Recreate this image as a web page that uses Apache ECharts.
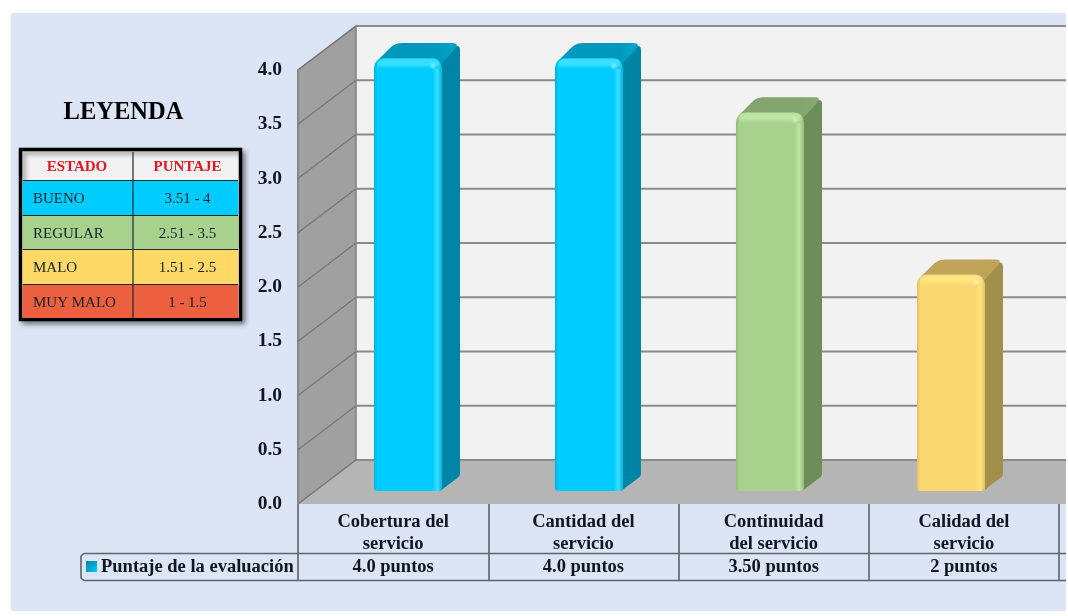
<!DOCTYPE html>
<html><head><meta charset="utf-8">
<style>html,body{margin:0;padding:0;background:#fff}#c{width:1068px;height:616px}</style>
<script src="https://cdn.jsdelivr.net/npm/echarts@6/dist/echarts.min.js"></script>
</head><body><div id="c"></div>
<script>
const categories = ['Cobertura del\nservicio','Cantidad del\nservicio','Continuidad\ndel servicio','Calidad del\nservicio'];
const scores = [4.0, 4.0, 3.5, 2.0];
const scoreLabels = ['4.0 puntos','4.0 puntos','3.50 puntos','2 puntos'];
const yTicks = [0,0.5,1,1.5,2,2.5,3,3.5,4];
const legendHeader = ['ESTADO','PUNTAJE'];
const legendStates = ['BUENO','REGULAR','MALO','MUY MALO'];
const legendRanges = ['3.51 - 4','2.51 - 3.5','1.51 - 2.5','1 - 1.5'];
const legendMin = [3.51, 2.51, 1.51, 1];
const seriesName = 'Puntaje de la evaluación';

const SERIF = '"Liberation Serif","Times New Roman",serif';
const legendFill = ['#00CCFF','#A9D18E','#FFD966','#EC6040'];
const palette = [
  {front:'#00CCFF', edge:'#00B4E2', light:'#3ADFFF', top:'#0099BD', side:'#0085A6', sideLight:'#00A6C8'},
  {front:'#A9D18E', edge:'#93BB78', light:'#BEE4A4', top:'#84A66E', side:'#6F8C5B', sideLight:'#86A871'},
  {front:'#F9D771', edge:'#E3C15F', light:'#FFE47F', top:'#BFA45A', side:'#A38F4C', sideLight:'#BDA45A'},
  {front:'#EC6040', edge:'#CC4E30', light:'#F57B5E', top:'#B34A30', side:'#9C4029', sideLight:'#B34A30'}
];
const RIGHT = 1066, DX = 58, DY = -44, BAR_DX = 18, BAR_DY = -15;

function band(v){ for(let i=0;i<legendMin.length;i++){ if(v>=legendMin[i]) return i; } return legendMin.length-1; }

function roundPoly(pts, rs){
  const out=[]; const n=pts.length;
  for(let i=0;i<n;i++){
    const p=pts[i], a=pts[(i+n-1)%n], b=pts[(i+1)%n], r=rs[i]||0;
    if(!r){out.push(p);continue;}
    const la=Math.hypot(a[0]-p[0],a[1]-p[1]), lb=Math.hypot(b[0]-p[0],b[1]-p[1]);
    const s=[p[0]+(a[0]-p[0])*r/la,p[1]+(a[1]-p[1])*r/la], e=[p[0]+(b[0]-p[0])*r/lb,p[1]+(b[1]-p[1])*r/lb];
    for(let t=0;t<=6;t++){const u=t/6;
      out.push([(1-u)*(1-u)*s[0]+2*u*(1-u)*p[0]+u*u*e[0],(1-u)*(1-u)*s[1]+2*u*(1-u)*p[1]+u*u*e[1]]);}
  }
  return out;
}
const linear=(x,y,x2,y2,stops)=>({type:'linear',x,y,x2,y2,colorStops:stops.map(s=>({offset:s[0],color:s[1]}))});

function renderWalls(params, api){
  const g=params.coordSys, x0=g.x, y4=api.coord([0,4])[1], y0=api.coord([0,0])[1];
  const grey='#808080';
  return {type:'group',children:[
    {type:'rect',shape:{x:x0+DX,y:y4+DY,width:RIGHT-x0-DX,height:y0-y4},style:{fill:'#F2F2F2'}},
    {type:'polygon',shape:{points:[[x0,y4],[x0+DX,y4+DY],[x0+DX,y0+DY],[x0,y0]]},style:{fill:'#A0A0A0',stroke:grey,lineWidth:1.5}},
    {type:'polygon',shape:{points:[[x0,y0],[x0+DX,y0+DY],[RIGHT,y0+DY],[RIGHT,y0]]},style:{fill:'#B5B5B5'}}
  ]};
}
function renderGrid(params, api){
  const g=params.coordSys, x0=g.x, y=api.coord([0,api.value(1)])[1];
  return {type:'group',children:[
    {type:'line',shape:{x1:x0,y1:y,x2:x0+DX,y2:y+DY},style:{stroke:'#777777',lineWidth:1.2}},
    {type:'line',shape:{x1:x0+DX,y1:y+DY,x2:RIGHT,y2:y+DY},style:{stroke:'#8A8A8A',lineWidth:2}}
  ]};
}
function renderBar(params, api){
  const i=api.value(0), v=api.value(1), c=palette[band(v)];
  const w=api.size([1,0])[0]*0.376;
  const cx=api.coord([i,0])[0], yb=api.coord([i,0])[1], yt=api.coord([i,v])[1];
  const x0=cx-w/2, x1=cx+w/2;
  const side=roundPoly([[x1-4,yt],[x1+BAR_DX,yt+BAR_DY],[x1+BAR_DX,yb+BAR_DY],[x1-2,yb]],[0,8,3,0]);
  const top=roundPoly([[x0-1,yt+7],[x0+BAR_DX+3,yt+BAR_DY],[x1+BAR_DX,yt+BAR_DY],[x1,yt+5]],[6,7,8,0]);
  return {type:'group',children:[
    {type:'polygon',shape:{points:side},style:{fill:c.side}},
    {type:'polygon',shape:{points:top},style:{fill:linear(0,0,1,0,[[0,c.top],[0.78,c.top],[0.95,c.sideLight],[1,c.sideLight]])}},
    {type:'rect',shape:{x:x0,y:yt,width:w,height:yb-yt,r:[10,10,3,3]},
      style:{fill:linear(0,0,1,0,[[0,c.edge],[0.05,c.front],[0.86,c.front],[0.93,c.light],[1,c.edge]])}},
    {type:'rect',shape:{x:x0+3,y:yt+1,width:w-6,height:10,r:[7,7,0,0]},
      style:{fill:linear(0,0,0,1,[[0,c.light],[0.5,c.light],[1,c.front]])}},
    {type:'circle',shape:{cx:x1-9,cy:yt+8,r:4},style:{fill:{type:'radial',x:0.5,y:0.5,r:0.5,colorStops:[{offset:0,color:'rgba(255,255,255,0.45)'},{offset:1,color:'rgba(255,255,255,0)'}]}}}
  ]};
}

const legendRowsY=[[181,34],[216,33],[250,34],[285,33]];
const legendGraphics=[
  {type:'text',style:{x:123.5,y:112.5,text:'LEYENDA',font:'bold 24.5px '+SERIF,fill:'#000',align:'center',verticalAlign:'middle'}},
  {type:'rect',shape:{x:20.5,y:149.5,width:220,height:170},style:{fill:'#F2F2F2',stroke:'#000',lineWidth:3.5,shadowBlur:5,shadowOffsetX:3,shadowOffsetY:3,shadowColor:'rgba(0,0,0,0.4)'}},
  {type:'text',style:{x:77,y:167,text:legendHeader[0],font:'bold 15px '+SERIF,fill:'#E8141E',align:'center',verticalAlign:'middle'}},
  {type:'text',style:{x:187.5,y:167,text:legendHeader[1],font:'bold 15px '+SERIF,fill:'#E8141E',align:'center',verticalAlign:'middle'}}
];
legendStates.forEach((s,i)=>{
  const [y,h]=legendRowsY[i];
  legendGraphics.push(
    {type:'rect',shape:{x:22.5,y,width:216,height:h},style:{fill:legendFill[i]}},
    {type:'line',shape:{x1:23,y1:y-0.5,x2:238,y2:y-0.5},style:{stroke:'#1B2B2B',lineWidth:1}},
    {type:'text',style:{x:33,y:y+h/2+1.5,text:s,font:'15px '+SERIF,fill:'#10202A',align:'left',verticalAlign:'middle'}},
    {type:'text',style:{x:187.5,y:y+h/2+1.5,text:legendRanges[i],font:'15px '+SERIF,fill:'#10202A',align:'center',verticalAlign:'middle'}}
  );
});
legendGraphics.push({type:'line',shape:{x1:133,y1:152,x2:133,y2:318},style:{stroke:'#1B2B2B',lineWidth:1.2}});

const tableLine='#5F6369';
const chartGraphics=[
  {type:'rect',z:-20,silent:true,shape:{x:11,y:13,width:1055,height:598},style:{fill:'#DBE5F5'}},
  ...legendGraphics.map(e=>Object.assign({z:5,silent:true},e)),
  {type:'line',z:5,shape:{x1:298,y1:553.5,x2:RIGHT,y2:553.5},style:{stroke:tableLine,lineWidth:1.6}},
  {type:'line',z:5,shape:{x1:298,y1:580.5,x2:RIGHT,y2:580.5},style:{stroke:tableLine,lineWidth:1.6}},
  {type:'polyline',z:5,shape:{points:[[298,553.5],[84,553.5],[81,556],[81,578],[84,580.5],[298,580.5]]},style:{fill:'none',stroke:tableLine,lineWidth:1.6}},
  {type:'rect',z:5,shape:{x:86,y:561,width:11,height:11},style:{fill:linear(0,0,1,1,[[0,'#0085A6'],[0.5,'#00A6C8'],[1,'#00CCFF']])}},
  {type:'text',z:5,style:{x:101,y:567,text:seriesName,font:'bold 18.5px '+SERIF,fill:'#10151F',align:'left',verticalAlign:'middle'}}
];

const chart=echarts.init(document.getElementById('c'),null,{renderer:'canvas'});
chart.setOption({
  animation:false,
  backgroundColor:'#fff',
  graphic:{elements:chartGraphics},
  grid:[
    {left:298,width:761,top:70,height:434},
    {left:317.5,width:724,top:58,height:433}
  ],
  xAxis:[
    {type:'category',gridIndex:0,data:categories.map((c,i)=>c+'|'+scoreLabels[i]),
     axisLine:{show:false},
     axisTick:{show:true,length:76,alignWithLabel:false,lineStyle:{color:tableLine,width:1.6}},
     axisLabel:{interval:0,margin:7,hideOverlap:false,
       formatter:s=>{const [c,v]=s.split('|');return c.split('\n').map(l=>'{c|'+l+'}').join('\n')+'\n{v|'+v+'}';},
       rich:{c:{fontFamily:SERIF,fontWeight:'bold',fontSize:18.5,lineHeight:22,color:'#10151F',align:'center'},
             v:{fontFamily:SERIF,fontWeight:'bold',fontSize:18.5,lineHeight:24,color:'#10151F',align:'center'}}}},
    {type:'category',gridIndex:1,data:categories,show:false}
  ],
  yAxis:[
    {type:'value',gridIndex:0,min:0,max:4,interval:0.5,
     axisLine:{show:true,lineStyle:{color:'#808080',width:1.5}},axisTick:{show:false},splitLine:{show:false},
     axisLabel:{margin:16,padding:[4,0,0,0],fontFamily:SERIF,fontWeight:'bold',fontSize:19.5,color:'#10151F',formatter:v=>v.toFixed(1)}},
    {type:'value',gridIndex:1,min:0,max:4,interval:0.5,show:false,splitLine:{show:false}}
  ],
  series:[
    {type:'custom',xAxisIndex:0,yAxisIndex:0,silent:true,z:1,clip:false,renderItem:renderWalls,data:[[0,0]]},
    {type:'custom',xAxisIndex:0,yAxisIndex:0,silent:true,z:2,clip:false,renderItem:renderGrid,data:yTicks.map(v=>[0,v])},
    {type:'custom',name:seriesName,xAxisIndex:1,yAxisIndex:1,z:3,clip:false,renderItem:renderBar,
     encode:{x:0,y:1},data:scores.map((v,i)=>[i,v])}
  ]
});
</script></body></html>
